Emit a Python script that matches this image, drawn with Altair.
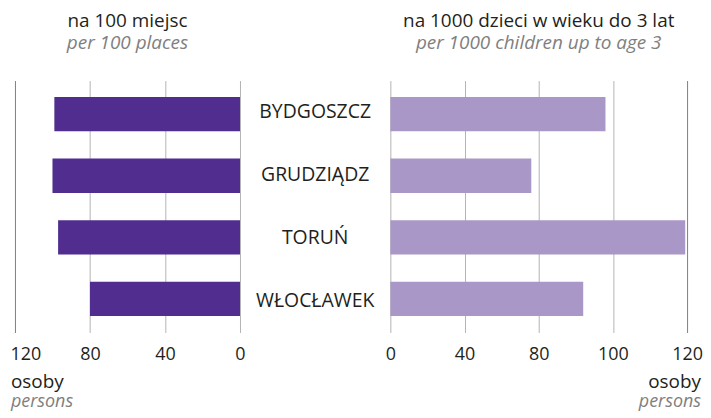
import altair as alt
import pandas as pd

cities = ["BYDGOSZCZ", "GRUDZIĄDZ", "TORUŃ", "WŁOCŁAWEK"]
per_100_places = [99, 100, 97, 80]
per_1000_children = [116, 76, 159, 104]

left_ticks = [0, 40, 80, 120]
right_ticks = [0, 40, 80, 120, 160]
right_tick_labels = ["0", "40", "80", "100", "120"]

left_title = ["na 100 miejsc", "per 100 places"]
right_title = ["na 1000 dzieci w wieku do 3 lat", "per 1000 children up to age 3"]
unit_pl = ["osoby"]
unit_en = ["persons"]

DARK = "#512d8f"
LIGHT = "#a997c7"
TEXT = "#231f20"
GREY = "#808080"
FONT = "Open Sans"
FS = 18
H = 253

df = pd.DataFrame({"city": cities, "left": per_100_places, "right": per_1000_children})

yscale = alt.Scale(paddingInner=0.443, paddingOuter=0.267)
yenc = alt.Y("city:N", sort=cities, axis=None, scale=yscale)


def title(t):
    return alt.TitleParams(
        text=t[0], subtitle=t[1], fontSize=19, subtitleFontSize=19,
        font=FONT, subtitleFont=FONT, fontWeight="normal",
        subtitleFontStyle="italic", color=TEXT, subtitleColor=GREY,
        anchor="middle", offset=28, subtitlePadding=3,
    )


def unit_layers(xpos, align):
    a = alt.Chart(pd.DataFrame({"t": unit_pl})).mark_text(
        font=FONT, fontSize=19, color=TEXT, align=align, baseline="alphabetic"
    ).encode(text="t:N", x=alt.value(xpos), y=alt.value(H + 56))
    b = alt.Chart(pd.DataFrame({"t": unit_en})).mark_text(
        font=FONT, fontSize=FS, color=GREY, fontStyle="italic", align=align, baseline="alphabetic"
    ).encode(text="t:N", x=alt.value(xpos), y=alt.value(H + 75))
    return a, b


left_bars = alt.Chart(df).mark_bar(color=DARK).encode(
    x=alt.X(
        "left:Q",
        scale=alt.Scale(domain=[0, 120], reverse=True, nice=False),
        axis=alt.Axis(
            values=left_ticks, title=None, labelFlush=False,
            gridColor={"condition": {"test": "datum.value == 120", "value": "#7f7f7f"}, "value": "#b3b3b3"},
            labelAlign={"condition": {"test": "datum.value == 120", "value": "left"}, "value": "center"},
            labelOffset={"condition": {"test": "datum.value == 120", "value": -5}, "value": 0},
        ),
    ),
    y=yenc,
)
la, lb = unit_layers(-4, "left")
left = alt.layer(left_bars, la, lb).properties(width=226, height=H, title=title(left_title))

middle = alt.Chart(df).mark_text(font=FONT, fontSize=19.5, color=TEXT).encode(
    y=yenc, text="city:N", x=alt.value(75.5)
).properties(width=151, height=H)

label_expr = "".join(
    f"datum.value == {v} ? '{l}' : " for v, l in zip(right_ticks, right_tick_labels)
) + "datum.label"

right_bars = alt.Chart(df).mark_bar(color=LIGHT).encode(
    x=alt.X(
        "right:Q",
        scale=alt.Scale(domain=[0, 160], nice=False),
        axis=alt.Axis(
            values=right_ticks, title=None, labelExpr=label_expr, labelFlush=False,
            gridColor={"condition": {"test": "datum.value == 160", "value": "#7f7f7f"}, "value": "#b3b3b3"},
        ),
    ),
    y=yenc,
)
ra, rb = unit_layers(312, "right")
right = alt.layer(right_bars, ra, rb).properties(width=298, height=H, title=title(right_title))

chart = alt.hconcat(left, middle, right, spacing=0, bounds="flush").properties(
    padding={"left": 2, "top": 3, "right": 0, "bottom": 0}
).configure_view(stroke=None).configure_axis(
    labelFont=FONT, labelFontSize=FS, labelColor=TEXT, grid=True,
    domain=False, ticks=False, labelPadding=13, gridWidth=1,
).resolve_scale(y="independent")

chart.save("out.html", embed_options={"renderer": "svg", "actions": False})
